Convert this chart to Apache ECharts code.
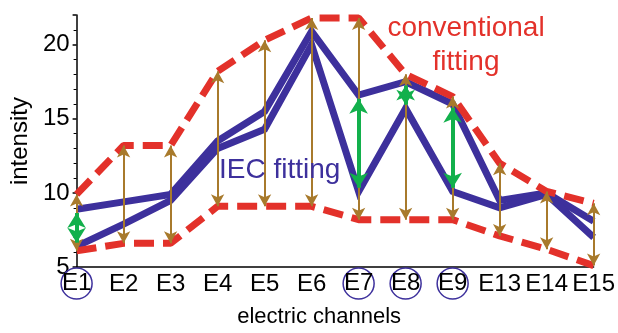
<!DOCTYPE html>
<html>
<head>
<meta charset="utf-8">
<script src="https://cdn.jsdelivr.net/npm/echarts@6/dist/echarts.min.js"></script>
<style>
html,body{margin:0;padding:0;background:#fff;}
#chart{width:618px;height:333px;}
</style>
</head>
<body>
<div id="chart"></div>
<script>
const categories = ['E1','E2','E3','E4','E5','E6','E7','E8','E9','E13','E14','E15'];
const upperConv = [9.9,13.2,13.2,18.2,20.3,21.8,21.8,18.0,16.5,12.0,10.1,9.3];
const lowerConv = [6.1,6.6,6.6,9.1,9.1,9.1,8.2,8.2,8.2,7.1,6.2,5.1];
const iecA = [8.9,9.4,9.9,13.5,15.5,20.9,16.6,17.5,16.0,9.5,10.0,8.1];
const iecB = [6.4,7.9,9.5,13.0,14.3,20.0,10.1,15.7,10.1,9.0,9.9,7.0];
const highlighted = ['E1','E7','E8','E9'];
const yTicks = [5,10,15,20];

const RED = '#E3312A', BLUE = '#3D309C', BROWN = '#A87A2C', GREEN = '#12B04C';
const FONT = 'Liberation Sans, Arial, sans-serif';
const greenInset = 0.25;

const brownData = categories.map((c, i) => [
  {coord: [c, lowerConv[i]]}, {coord: [c, upperConv[i]]}
]);
const greenData = highlighted.map(c => {
  const i = categories.indexOf(c);
  const hi = Math.max(iecA[i], iecB[i]), lo = Math.min(iecA[i], iecB[i]);
  return [{coord: [c, lo + greenInset]}, {coord: [c, hi - greenInset]}];
});

const chart = echarts.init(document.getElementById('chart'), null, {renderer: 'canvas'});
chart.setOption({
  animation: false,
  grid: {left: 75, right: 20.5, top: 15, bottom: 58},
  xAxis: {
    type: 'category',
    data: categories,
    boundaryGap: false,
    axisLine: {show: true, lineStyle: {color: '#000', width: 1.5}},
    axisTick: {show: false},
    axisLabel: {
      interval: 0,
      margin: 1,
      formatter: v => highlighted.includes(v) ? '{c|' + v + '}' : '{n|' + v + '}',
      rich: {
        n: {fontSize: 24, fontFamily: FONT, color: '#000', height: 33, lineHeight: 33},
        c: {fontSize: 24, fontFamily: FONT, color: '#000', width: 31, height: 31, lineHeight: 31,
            align: 'center', borderColor: BLUE, borderWidth: 1.5, borderRadius: 17}
      }
    },
    name: 'electric channels',
    nameLocation: 'middle',
    nameGap: 37,
    nameTextStyle: {fontSize: 22, fontFamily: FONT, color: '#000', padding: [0, 32, 0, 0]}
  },
  yAxis: {
    type: 'value',
    min: yTicks[0],
    max: 22,
    interval: yTicks[1] - yTicks[0],
    splitLine: {show: false},
    axisLine: {show: true, lineStyle: {color: '#000', width: 1.5}},
    axisTick: {show: true, length: 4, lineStyle: {color: '#000', width: 1.5}},
    minorTick: {show: true, splitNumber: 5, length: 3, lineStyle: {color: '#000', width: 1}},
    axisLabel: {showMaxLabel: false, fontSize: 24, fontFamily: FONT, color: '#000', margin: 7},
    name: 'intensity',
    nameLocation: 'middle',
    nameGap: 40,
    nameTextStyle: {fontSize: 24, fontFamily: FONT, color: '#000'}
  },
  series: [
    {
      type: 'line', data: iecA, symbol: 'none', z: 3,
      lineStyle: {color: BLUE, width: 7, join: 'miter'}
    },
    {
      type: 'line', data: iecB, symbol: 'none', z: 3,
      lineStyle: {color: BLUE, width: 7, join: 'miter'}
    },
    {
      type: 'line', data: upperConv, symbol: 'none', z: 4,
      lineStyle: {color: RED, width: 7, type: [20, 9], cap: 'butt'}
    },
    {
      type: 'line', data: lowerConv, symbol: 'none', z: 4,
      lineStyle: {color: RED, width: 7, type: [20, 9], cap: 'butt'}
    },
    {
      type: 'line', data: [], z: 5,
      markLine: {
        silent: true, animation: false,
        symbol: ['arrow', 'arrow'], symbolSize: [10, 12],
        label: {show: false},
        lineStyle: {color: BROWN, width: 2, type: 'solid'},
        emphasis: {disabled: true},
        data: brownData
      }
    },
    {
      type: 'line', data: [], z: 6,
      markLine: {
        silent: true, animation: false,
        symbol: ['arrow', 'arrow'], symbolSize: [14, 15],
        label: {show: false},
        lineStyle: {color: GREEN, width: 4, type: 'solid'},
        emphasis: {disabled: true},
        data: greenData
      }
    }
  ],
  graphic: [
    {type: 'text', left: 219, top: 156, z: 10,
     style: {text: 'IEC fitting', fill: BLUE, font: '28px ' + FONT}},
    {type: 'text', x: 466, y: 11, z: 10,
     style: {text: 'conventional\nfitting', fill: RED, font: '28px ' + FONT,
             textAlign: 'center', lineHeight: 34}}
  ]
});
</script>
</body>
</html>
